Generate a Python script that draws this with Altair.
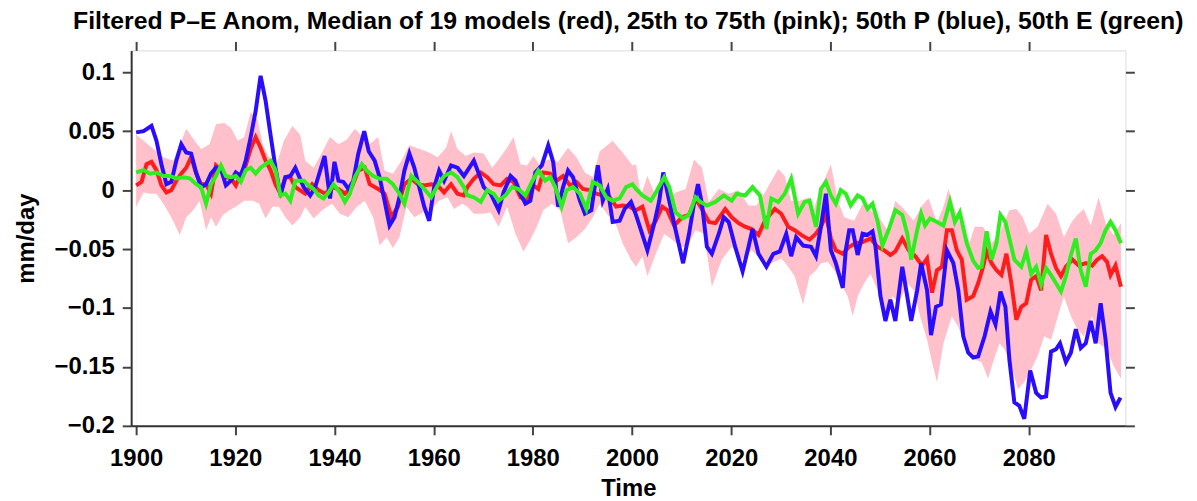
import altair as alt
import pandas as pd

TITLE = "Filtered P\u2013E Anom, Median of 19 models (red), 25th to 75th (pink); 50th P (blue), 50th E (green)"
X_TICKS = [1900, 1920, 1940, 1960, 1980, 2000, 2020, 2040, 2060, 2080]
Y_TICKS = [-0.2, -0.15, -0.1, -0.05, 0, 0.05, 0.1]

# (year, mm/day)
BLUE = [(1900.0,0.049),(1901.5,0.050),(1903.1,0.0545),(1904.1,0.042),(1905.1,0.022),(1906.1,0.005),(1907.1,0.007),
(1908.1,0.025),(1909.1,0.039),(1910.1,0.032),(1911.1,0.031),(1912.1,0.015),(1913.1,0.0025),(1914.1,0.005),(1915.1,0.014),
(1916.1,0.019),(1917.1,0.018),(1918.1,0.004),(1919.1,0.008),(1920.1,0.015),(1921.1,0.012),(1922.1,0.025),(1923.1,0.045),
(1924.1,0.067),(1925.1,0.097),(1926.1,0.076),(1927.1,0.047),(1928.1,0.019),(1929.1,-0.0045),(1930.1,0.011),(1931.1,0.012),
(1932.1,0.019),(1933.8,0.0025),(1935.1,-0.0045),(1936.1,0.0025),(1938.0,0.029),(1939.1,-0.007),(1940.0,0.024),(1940.8,0.008),
(1941.8,0.007),(1942.8,0.001),(1943.8,0.008),(1944.8,0.031),(1946.0,0.050),(1946.9,0.033),(1948.1,0.025),(1949.1,0.011),
(1950.1,-0.009),(1951.1,-0.030),(1952.1,-0.023),(1953.1,-0.006),(1954.1,0.0166),(1955.1,0.031),(1956.1,0.019),(1957.1,0.0025),
(1958.1,-0.014),(1959.1,-0.026),(1960.1,0.0025),(1961.1,0.0166),(1962.1,0.008),(1963.5,0.021),(1964.8,0.019),(1966.1,0.012),
(1968.1,0.025),(1969.1,0.014),(1970.1,0.0026),(1971.5,-0.003),(1973.1,-0.017),(1974.1,-0.002),(1975.5,0.012),(1976.5,0.008),
(1977.5,-0.003),(1978.5,-0.0115),(1979.5,-0.009),(1980.5,0.015),(1981.8,0.021),(1983.1,0.038),(1984.1,0.024),(1985.1,-0.014),
(1986.1,0.0026),(1987.1,0.0166),(1988.1,0.011),(1989.5,-0.009),(1990.5,-0.020),(1991.8,-0.017),(1993.1,0.021),(1994.1,-0.009),
(1995.1,0.001),(1996.1,-0.027),(1997.5,-0.026),(1998.5,-0.016),(1999.8,-0.010),(2000.8,-0.021),(2001.8,-0.034),(2003.1,-0.051),
(2004.5,-0.028),(2005.5,-0.009),(2006.3,0.015),(2007.5,-0.009),(2008.8,-0.034),(2010.3,-0.062),(2011.5,-0.037),(2012.5,-0.0115),
(2013.3,0.005),(2014.1,-0.0115),(2015.1,-0.048),(2016.1,-0.054),(2017.5,-0.037),(2018.5,-0.023),(2019.5,-0.027),(2020.8,-0.048),
(2022.3,-0.069),(2023.5,-0.048),(2024.3,-0.033),(2025.5,-0.054),(2027.1,-0.065),(2028.5,-0.054),(2029.8,-0.052),(2031.1,-0.037),
(2032.1,-0.056),(2033.1,-0.040),(2034.5,-0.047),(2036.1,-0.048),(2037.1,-0.056),(2038.1,-0.031),(2039.1,-0.003),(2040.1,-0.051),
(2041.1,-0.062),(2042.5,-0.083),(2043.1,-0.051),(2043.8,-0.034),(2044.5,-0.034),(2045.5,-0.055),(2046.5,-0.037),(2047.5,-0.038),
(2048.5,-0.035),(2049.1,-0.048),(2050.1,-0.090),(2051.1,-0.111),(2052.1,-0.093),(2053.1,-0.111),(2054.5,-0.065),(2055.5,-0.090),
(2056.3,-0.111),(2057.5,-0.085),(2058.3,-0.062),(2059.5,-0.085),(2060.3,-0.123),(2061.3,-0.099),(2062.3,-0.097),(2063.5,-0.051),
(2064.8,-0.062),(2065.8,-0.085),(2066.8,-0.124),(2067.8,-0.138),(2068.8,-0.142),(2069.8,-0.141),(2071.1,-0.124),(2072.3,-0.103),
(2073.3,-0.114),(2074.3,-0.086),(2075.3,-0.099),(2076.1,-0.144),(2077.1,-0.180),(2078.1,-0.183),(2079.1,-0.194),(2080.3,-0.153),
(2081.5,-0.172),(2082.5,-0.176),(2083.5,-0.175),(2084.5,-0.137),(2085.5,-0.135),(2086.3,-0.130),(2087.5,-0.146),(2088.5,-0.138),
(2089.5,-0.118),(2090.5,-0.134),(2091.5,-0.130),(2092.5,-0.111),(2093.5,-0.130),(2094.5,-0.096),(2095.5,-0.127),(2096.5,-0.172),
(2097.5,-0.184),(2098.5,-0.176)]

RED = [(1900.0,0.004),(1901.1,0.007),(1902.1,0.022),(1903.1,0.024),(1904.1,0.017),(1905.1,0.004),(1906.1,-0.002),(1907.1,0.0),
(1908.1,0.008),(1909.1,0.014),(1910.1,0.019),(1911.1,0.028),(1912.1,0.014),(1913.1,0.005),(1914.1,0.005),(1915.1,-0.003),
(1916.1,0.021),(1917.1,0.017),(1918.1,0.011),(1919.1,0.010),(1920.1,0.004),(1921.1,0.014),(1922.1,0.021),(1923.1,0.035),
(1924.1,0.045),(1925.1,0.036),(1926.1,0.025),(1927.1,0.017),(1928.1,0.005),(1929.1,-0.003),(1930.1,0.011),(1931.1,0.011),
(1932.1,0.0025),(1934.1,-0.003),(1935.5,0.005),(1936.8,0.0),(1938.1,-0.003),(1939.5,0.0025),(1940.8,0.001),(1942.1,-0.003),
(1943.5,0.0025),(1944.8,0.0166),(1946.1,0.019),(1947.1,0.005),(1948.8,0.001),(1950.1,-0.003),(1951.5,-0.023),(1952.8,-0.014),
(1954.1,0.005),(1955.5,0.0096),(1956.8,0.005),(1958.1,0.004),(1959.5,0.005),(1960.8,0.004),(1962.1,-0.002),(1963.5,0.005),
(1964.8,-0.003),(1966.1,-0.0045),(1966.8,0.0026),(1968.1,0.0096),(1969.5,0.015),(1970.8,0.011),(1972.1,0.005),(1973.5,0.004),
(1974.8,0.0096),(1976.1,0.007),(1977.5,-0.006),(1978.8,-0.009),(1980.1,0.004),(1981.1,0.001),(1982.1,0.015),(1983.5,0.014),
(1984.8,0.008),(1986.1,0.012),(1987.5,0.004),(1988.8,0.007),(1990.1,0.001),(1991.5,0.0),(1992.8,-0.003),(1994.1,-0.0045),
(1995.5,-0.006),(1996.8,-0.014),(1998.1,-0.013),(1999.5,-0.014),(2000.8,-0.017),(2002.1,-0.014),(2003.5,-0.034),(2004.8,-0.026),
(2006.1,-0.014),(2007.1,-0.017),(2008.5,-0.030),(2010.1,-0.023),(2011.5,-0.021),(2012.8,-0.007),(2014.1,-0.016),(2015.5,-0.027),
(2016.8,-0.028),(2018.8,-0.016),(2020.1,-0.023),(2021.5,-0.028),(2022.8,-0.031),(2024.1,-0.033),(2025.5,-0.038),(2026.8,-0.026),
(2028.8,-0.016),(2030.1,-0.020),(2031.5,-0.031),(2032.8,-0.034),(2034.1,-0.038),(2035.8,-0.042),(2037.1,-0.037),(2038.1,-0.031),
(2039.1,-0.021),(2040.1,-0.041),(2041.1,-0.051),(2042.5,-0.054),(2043.8,-0.048),(2045.1,-0.045),(2046.5,-0.044),(2048.1,-0.041),
(2049.5,-0.048),(2050.8,-0.051),(2052.1,-0.055),(2053.1,-0.052),(2054.5,-0.041),(2055.8,-0.051),(2057.1,-0.056),(2058.5,-0.064),
(2059.5,-0.058),(2060.5,-0.087),(2061.5,-0.068),(2062.5,-0.065),(2063.5,-0.034),(2064.5,-0.034),(2065.5,-0.051),(2066.5,-0.059),
(2067.5,-0.093),(2068.8,-0.090),(2069.8,-0.079),(2070.8,-0.065),(2071.5,-0.052),(2072.5,-0.062),(2073.5,-0.068),(2074.5,-0.072),
(2075.5,-0.054),(2076.5,-0.079),(2077.5,-0.110),(2078.5,-0.099),(2079.5,-0.096),(2080.5,-0.076),(2081.5,-0.073),(2082.5,-0.085),
(2083.5,-0.038),(2084.5,-0.054),(2085.5,-0.066),(2086.5,-0.073),(2087.5,-0.065),(2088.8,-0.059),(2090.1,-0.064),(2091.5,-0.062),
(2092.8,-0.064),(2093.8,-0.059),(2094.8,-0.056),(2095.8,-0.061),(2096.5,-0.072),(2097.5,-0.064),(2098.6,-0.082)]

GREEN = [(1900.0,0.015),(1901.5,0.017),(1902.8,0.014),(1904.1,0.015),(1905.5,0.012),(1906.8,0.012),(1908.1,0.010),(1909.5,0.011),
(1910.8,0.010),(1912.1,0.005),(1913.1,0.0025),(1914.1,-0.0115),(1915.1,0.005),(1916.1,0.012),(1917.1,0.021),(1918.1,0.012),
(1919.1,0.011),(1920.1,0.012),(1921.1,0.007),(1922.1,0.017),(1923.1,0.019),(1924.1,0.014),(1925.1,0.019),(1926.1,0.022),
(1927.1,0.025),(1928.1,0.017),(1929.1,-0.0045),(1930.1,-0.003),(1931.1,-0.009),(1932.1,0.008),(1933.8,0.008),(1934.8,0.004),
(1935.8,0.001),(1936.8,-0.0045),(1937.8,-0.007),(1938.8,-0.002),(1939.8,0.005),(1941.1,-0.002),(1942.1,-0.010),(1943.1,-0.003),
(1944.1,0.011),(1945.5,0.022),(1946.5,0.0166),(1947.8,0.012),(1949.1,0.0096),(1950.5,0.0096),(1951.8,0.005),(1953.1,-0.003),
(1954.1,-0.0115),(1955.5,0.012),(1956.8,0.007),(1958.1,0.001),(1959.5,-0.006),(1960.8,0.004),(1962.1,0.012),(1963.5,0.015),
(1964.8,0.011),(1966.1,0.0025),(1966.8,-0.0045),(1968.1,-0.006),(1969.5,-0.010),(1970.8,0.0),(1972.1,-0.003),(1973.1,-0.009),
(1974.5,-0.0045),(1975.8,0.0026),(1977.1,0.001),(1978.5,-0.0045),(1979.8,0.007),(1981.1,0.0166),(1982.5,0.008),(1983.5,0.011),
(1984.5,0.0026),(1985.8,-0.014),(1986.8,0.0),(1988.1,0.0026),(1989.5,-0.003),(1990.8,-0.016),(1992.1,0.007),(1993.5,0.004),
(1994.8,-0.006),(1996.1,-0.009),(1997.5,-0.007),(1998.8,0.0026),(2000.1,0.005),(2000.8,0.001),(2002.1,-0.0045),(2003.8,-0.009),
(2004.8,-0.002),(2006.5,0.011),(2007.5,0.0026),(2008.8,-0.019),(2010.3,-0.024),(2011.5,-0.021),(2012.8,-0.006),(2013.8,-0.010),
(2015.1,-0.013),(2016.8,-0.010),(2018.5,-0.0045),(2020.1,-0.009),(2021.1,-0.003),(2022.8,-0.0045),(2024.3,0.0026),(2025.8,-0.0045),
(2027.1,-0.033),(2028.1,-0.007),(2029.5,-0.010),(2030.8,-0.003),(2032.1,0.0096),(2033.5,-0.020),(2034.8,-0.010),(2035.8,-0.009),
(2037.1,-0.031),(2038.1,0.001),(2039.1,0.007),(2040.1,-0.0045),(2041.1,-0.0115),(2042.1,0.0),(2043.1,-0.003),(2044.1,-0.013),
(2045.5,-0.0045),(2046.5,-0.007),(2047.5,-0.016),(2048.5,-0.0115),(2049.5,-0.026),(2050.5,-0.047),(2051.8,-0.033),(2053.1,-0.017),
(2054.5,-0.021),(2055.5,-0.037),(2056.3,-0.059),(2057.5,-0.034),(2058.3,-0.020),(2059.1,-0.030),(2060.1,-0.024),(2061.5,-0.027),
(2062.8,-0.030),(2064.1,-0.010),(2065.1,-0.027),(2066.1,-0.019),(2067.5,-0.045),(2068.8,-0.060),(2069.8,-0.066),(2070.5,-0.065),
(2071.5,-0.035),(2072.5,-0.059),(2073.5,-0.045),(2074.3,-0.021),(2075.3,-0.027),(2076.1,-0.041),(2077.1,-0.059),(2078.5,-0.065),
(2079.5,-0.052),(2080.5,-0.071),(2081.5,-0.065),(2082.5,-0.080),(2083.5,-0.066),(2084.5,-0.072),(2085.5,-0.079),(2086.5,-0.086),
(2087.5,-0.073),(2088.5,-0.055),(2089.5,-0.041),(2090.5,-0.068),(2091.5,-0.082),(2092.5,-0.054),(2093.5,-0.051),(2094.5,-0.045),
(2095.5,-0.034),(2096.5,-0.027),(2097.5,-0.034),(2098.6,-0.045)]

PINK_UPPER = [(1900.0,0.047),(1901.5,0.042),(1903.5,0.035),(1905.5,0.028),(1907.5,0.025),(1908.8,0.038),(1910.1,0.052),(1911.8,0.042),
(1913.1,0.035),(1914.8,0.039),(1916.1,0.056),(1917.8,0.057),(1919.1,0.053),(1920.5,0.042),(1921.8,0.045),(1923.1,0.066),
(1924.5,0.060),(1925.5,0.039),(1926.8,0.028),(1928.1,0.019),(1929.8,0.042),(1931.5,0.0545),(1933.1,0.047),(1934.1,0.025),
(1935.8,0.019),(1937.5,0.032),(1939.1,0.045),(1940.8,0.039),(1942.5,0.043),(1944.1,0.052),(1945.5,0.046),(1947.1,0.039),
(1948.8,0.045),(1950.1,0.0166),(1951.8,0.014),(1953.5,0.025),(1955.1,0.038),(1957.1,0.035),(1959.1,0.032),(1960.8,0.028),
(1962.5,0.036),(1963.5,0.050),(1964.8,0.035),(1966.5,0.029),(1968.1,0.032),(1970.1,0.031),(1971.8,0.019),(1973.1,0.026),
(1974.8,0.036),(1976.1,0.045),(1977.5,0.022),(1978.8,0.021),(1980.1,0.029),(1981.5,0.021),(1983.1,0.026),(1985.1,0.024),
(1987.1,0.036),(1988.8,0.028),(1990.5,0.015),(1992.1,0.011),(1993.5,0.033),(1996.1,0.042),(1998.1,0.032),(2000.1,0.021),
(2000.8,0.022),(2001.8,-0.0045),(2003.1,0.012),(2004.5,-0.002),(2006.1,0.012),(2007.5,-0.006),(2008.8,-0.002),(2010.8,0.001),
(2012.5,0.026),(2014.1,0.019),(2015.5,-0.010),(2017.5,0.001),(2019.5,-0.003),(2021.5,0.0),(2023.5,-0.013),(2025.1,-0.013),
(2026.8,-0.002),(2028.1,0.008),(2029.5,0.018),(2030.8,0.012),(2032.1,-0.009),(2033.8,-0.009),(2035.8,-0.006),(2036.5,-0.019),
(2037.8,0.0),(2039.1,0.012),(2040.1,0.022),(2041.5,-0.009),(2042.8,-0.023),(2044.8,-0.026),(2046.5,-0.0115),(2048.1,-0.017),
(2049.8,-0.023),(2051.5,-0.034),(2053.1,-0.009),(2054.8,-0.016),(2056.8,-0.026),(2058.5,-0.013),(2059.8,-0.007),(2061.5,-0.027),
(2062.8,-0.014),(2063.8,0.001),(2065.1,-0.016),(2066.5,-0.031),(2068.1,-0.044),(2069.1,-0.031),(2070.8,-0.031),(2072.5,-0.045),
(2074.1,-0.037),(2076.1,-0.017),(2077.5,-0.016),(2078.8,-0.023),(2080.1,-0.037),(2081.8,-0.031),(2083.8,-0.0115),(2085.5,-0.020),
(2087.1,-0.040),(2088.5,-0.028),(2089.8,-0.021),(2091.1,-0.016),(2092.5,-0.030),(2094.1,-0.006),(2095.5,-0.028),(2097.1,-0.038),
(2098.6,-0.028)]

PINK_LOWER = [(1900.0,-0.014),(1901.5,-0.002),(1902.8,-0.003),(1904.1,-0.003),(1905.5,-0.0115),(1907.1,-0.023),(1908.8,-0.038),
(1910.1,-0.023),(1911.5,-0.017),(1912.8,-0.009),(1914.1,-0.034),(1915.1,-0.023),(1916.1,-0.031),(1917.5,-0.021),(1918.8,-0.017),
(1920.1,-0.014),(1921.8,-0.009),(1923.5,-0.009),(1924.8,-0.0115),(1926.1,-0.024),(1927.5,-0.014),(1928.8,-0.014),(1930.1,-0.023),
(1931.5,-0.030),(1933.1,-0.023),(1934.1,-0.014),(1935.8,-0.024),(1937.5,-0.017),(1939.5,-0.0115),(1941.1,-0.020),(1942.8,-0.023),
(1944.5,-0.014),(1946.1,-0.009),(1947.8,-0.023),(1949.1,-0.047),(1950.5,-0.040),(1951.8,-0.049),(1953.1,-0.040),(1954.5,-0.014),
(1956.1,-0.023),(1957.8,-0.019),(1959.5,-0.016),(1961.1,-0.009),(1962.8,-0.006),(1964.1,-0.016),(1965.8,-0.0115),(1966.8,-0.014),
(1968.1,-0.020),(1969.8,-0.020),(1971.5,-0.019),(1973.1,-0.031),(1974.8,-0.014),(1976.5,-0.037),(1978.1,-0.052),(1979.5,-0.042),
(1980.8,-0.031),(1982.1,-0.017),(1983.8,-0.0115),(1985.5,-0.017),(1987.1,-0.045),(1988.8,-0.040),(1990.5,-0.033),(1992.1,-0.023),
(1993.5,-0.0115),(1995.1,-0.021),(1996.5,-0.026),(1998.1,-0.045),(1999.8,-0.059),(2000.8,-0.065),(2002.1,-0.056),(2003.1,-0.073),
(2004.8,-0.054),(2006.5,-0.037),(2008.1,-0.042),(2009.8,-0.048),(2011.1,-0.048),(2012.8,-0.034),(2014.5,-0.037),(2016.1,-0.082),
(2018.1,-0.059),(2020.1,-0.048),(2022.1,-0.059),(2024.1,-0.051),(2026.1,-0.059),(2028.1,-0.062),(2030.1,-0.058),(2031.5,-0.065),
(2032.8,-0.073),(2034.5,-0.097),(2035.8,-0.073),(2037.1,-0.068),(2038.1,-0.062),(2039.5,-0.061),(2040.8,-0.068),(2042.1,-0.079),
(2043.5,-0.090),(2044.5,-0.107),(2045.5,-0.090),(2046.8,-0.079),(2048.1,-0.071),(2049.5,-0.085),(2051.1,-0.113),(2052.5,-0.090),
(2053.8,-0.096),(2055.5,-0.079),(2056.8,-0.085),(2058.1,-0.107),(2059.5,-0.127),(2060.5,-0.146),(2061.5,-0.163),(2062.8,-0.130),
(2064.5,-0.107),(2065.8,-0.116),(2067.5,-0.135),(2068.8,-0.143),(2070.5,-0.146),(2071.8,-0.160),(2072.8,-0.146),(2074.1,-0.130),
(2075.1,-0.135),(2076.5,-0.149),(2077.8,-0.169),(2079.1,-0.163),(2080.5,-0.152),(2081.8,-0.141),(2083.1,-0.124),(2084.5,-0.127),
(2086.1,-0.104),(2087.1,-0.090),(2088.5,-0.107),(2089.8,-0.118),(2091.1,-0.124),(2092.8,-0.107),(2094.1,-0.130),(2095.8,-0.135),
(2097.1,-0.149),(2098.6,-0.160)]


def frame(points):
    return pd.DataFrame(points, columns=["year", "v"])


FONT = "Liberation Sans"
xscale = alt.Scale(domain=[1899, 2099.5], nice=False, zero=False)
yscale = alt.Scale(domain=[-0.2, 0.1186], nice=False, zero=False)

x_axis = alt.Axis(values=X_TICKS, format="d", title="Time", grid=False, zindex=1,
                  tickSize=9, tickWidth=2, tickColor="#444", domainColor="#333", domainWidth=2,
                  labelFontSize=24, labelFontWeight="bold", labelFont=FONT, labelColor="black",
                  labelPadding=12, titleFontSize=24, titleFont=FONT, titleFontWeight="bold",
                  titleColor="black", titleY=63, titleBaseline="middle")
y_axis = alt.Axis(values=Y_TICKS, format="~g", title="mm/day", grid=False, zindex=1,
                  tickSize=9, tickWidth=2, tickColor="#444", domainColor="#333", domainWidth=2,
                  labelFontSize=24, labelFontWeight="bold", labelFont=FONT, labelColor="black",
                  labelPadding=8, titleFontSize=24, titleFont=FONT, titleFontWeight="bold",
                  titleColor="black", titleX=-105, titleY=189, titleAngle=-90,
                  titleAlign="center", titleBaseline="middle")

X = alt.X("year:Q", scale=xscale, axis=x_axis)
Y = alt.Y("v:Q", scale=yscale, axis=y_axis)

band_top = alt.Chart(frame(PINK_UPPER)).mark_area(color="#ffc0cb", opacity=1).encode(
    x=X, y=Y, y2=alt.datum(-0.2))
band_cut = alt.Chart(frame(PINK_LOWER)).mark_area(color="white", opacity=1).encode(
    x=X, y=Y, y2=alt.datum(-0.2))


def line(points, color):
    return alt.Chart(frame(points)).mark_line(color=color, strokeWidth=4).encode(x=X, y=Y)


red = line(RED, "#ff1c1c")
blue = line(BLUE, "#2a0cff")
green = line(GREEN, "#2fee1f")

main = alt.layer(band_top, band_cut, red, blue, green)

top_right = alt.Chart(frame(RED)).mark_line(opacity=0).encode(
    x=alt.X("year:Q", scale=xscale,
            axis=alt.Axis(orient="top", values=X_TICKS, labels=False, title=None, grid=False,
                          domain=False, tickSize=9, tickWidth=2, tickColor="#444", zindex=1)),
    y=alt.Y("v:Q", scale=yscale,
            axis=alt.Axis(orient="right", values=Y_TICKS, labels=False, title=None, grid=False,
                          domain=False, tickSize=9, tickWidth=2, tickColor="#444", zindex=1)),
)

chart = alt.layer(main, top_right).resolve_axis(x="independent", y="independent").properties(
    width=1001, height=378,
    title=alt.TitleParams(TITLE, fontSize=25, font=FONT, fontWeight="bold", color="black",
                          anchor="middle", frame="group", baseline="alphabetic", offset=8, dy=21),
    autosize=alt.AutoSizeParams(type="none"),
    padding={"left": 124, "top": 41, "right": 64, "bottom": 74},
).configure_view(stroke="#333", strokeWidth=2).configure(background="white")

chart.save("out.html", embed_options={"renderer": "svg", "actions": False})
